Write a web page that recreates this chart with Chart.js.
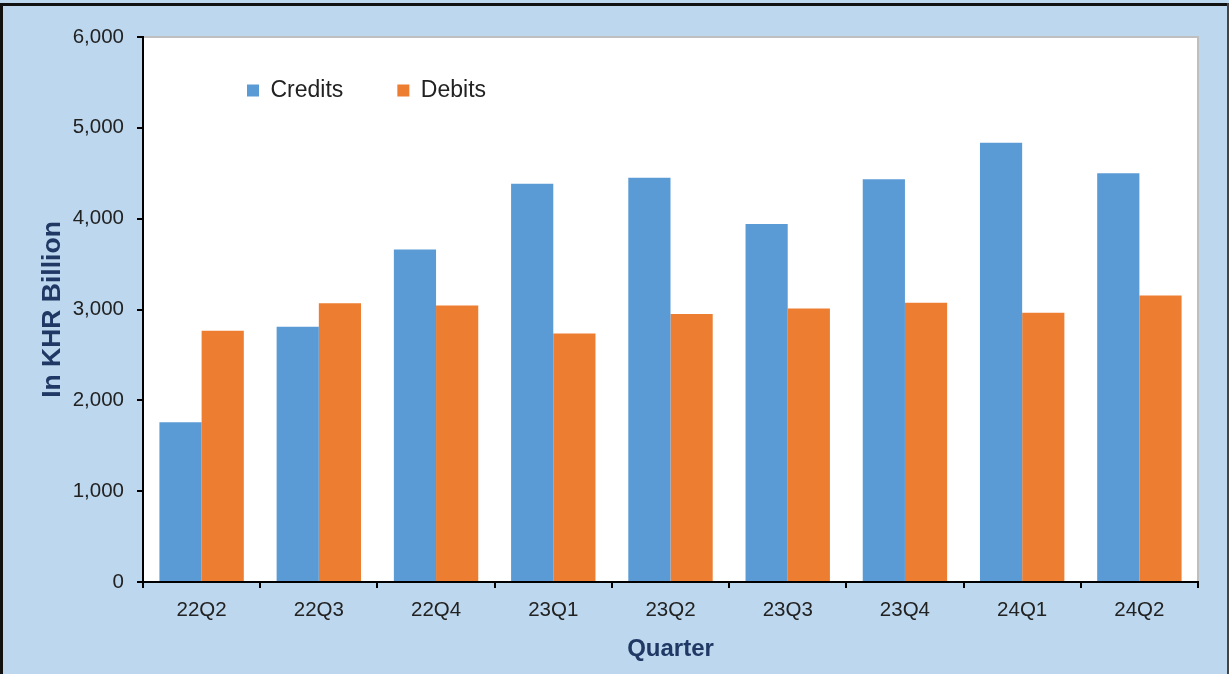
<!DOCTYPE html>
<html>
<head>
<meta charset="utf-8">
<title>Credits and Debits by Quarter</title>
<script src="https://cdn.jsdelivr.net/npm/chart.js@4.4.1/dist/chart.umd.min.js"></script>
<style>
  html, body { margin: 0; padding: 0; background: #BDD7EE; }
  #wrap { position: relative; width: 1229px; height: 674px; }
</style>
</head>
<body>
<div id="wrap">
  <canvas id="myChart" width="1229" height="674"></canvas>
</div>
<script>
'use strict';

//--------------------DATA
let quarters = ['22Q2', '22Q3', '22Q4', '23Q1', '23Q2', '23Q3', '23Q4', '24Q1', '24Q2'];
let credits = [1760, 2810, 3660, 4385, 4450, 3940, 4435, 4835, 4500];
let debits = [2765, 3070, 3045, 2735, 2950, 3010, 3075, 2965, 3155];
let yTicks = [0, 1000, 2000, 3000, 4000, 5000, 6000];

//--------------------STYLE
let fontFamily = '"Liberation Sans", Arial, sans-serif';
let navy = '#1F3864';
let textColor = '#222222';

//--------------------PLUGINS
// light blue panel, black frame, white plot area with grey edge
let backgroundPlugin = {
  id: 'panelBackground',
  beforeDraw(chart) {
    let ctx = chart.ctx;
    let area = chart.chartArea;
    ctx.save();
    ctx.fillStyle = '#BDD7EE';
    ctx.fillRect(0, 0, chart.width, chart.height);

    ctx.fillStyle = '#ffffff';
    ctx.fillRect(area.left, area.top, area.right - area.left, area.bottom - area.top);
    ctx.strokeStyle = '#BFBFBF';
    ctx.lineWidth = 2;
    ctx.strokeRect(area.left, area.top, area.right - area.left, area.bottom - area.top);

    ctx.fillStyle = '#111111';
    ctx.fillRect(0, 3, chart.width, 3);
    ctx.fillRect(0, 3, 3, chart.height);
    ctx.fillStyle = '#444444';
    ctx.fillRect(chart.width - 2, 3, 2, chart.height);
    ctx.restore();
  }
};

// the legend sits inside the plot: one row, two columns, near the top left
let legendSpot = {
  id: 'legendSpot',
  afterLayout(chart) {
    let legend = chart.legend;
    if (!legend) return;
    legend.maxHeight = 150;   // forces each item into its own column
    legend.fit();
    legend.left = 193;
    legend.top = 25;
    legend.right = chart.chartArea.right;
    legend.bottom = legend.top + 100;
    legend.width = legend.right - legend.left;
    legend.height = legend.bottom - legend.top;
  }
};

//--------------------CHART
let canvasElem = document.getElementById('myChart');

let myObj = {
  type: 'bar',
  data: {
    labels: quarters,
    datasets: [
      {
        label: 'Credits',
        data: credits,
        backgroundColor: '#5B9BD5',
        borderWidth: 0,
      },
      {
        label: 'Debits',
        data: debits,
        backgroundColor: '#ED7D31',
        borderWidth: 0,
      },
    ],
  },
  options: {
    responsive: false,
    animation: false,
    devicePixelRatio: 1,
    categoryPercentage: 0.72,
    barPercentage: 1.0,
    layout: {
      padding: { left: 0, top: 37, right: 31, bottom: 0 },
    },
    plugins: {
      legend: {
        position: 'chartArea',
        align: 'start',
        labels: {
          boxWidth: 12,
          boxHeight: 12,
          padding: 54,
          color: textColor,
          font: { family: fontFamily, size: 23 },
        },
      },
      tooltip: { enabled: false },
    },
    scales: {
      x: {
        grid: {
          drawOnChartArea: false,
          drawTicks: true,
          tickLength: 6,
          color: '#000000',
          lineWidth: 2,
        },
        border: { display: true, color: '#000000', width: 2 },
        ticks: {
          color: textColor,
          padding: 10,
          font: { family: fontFamily, size: 20.5 },
        },
        title: {
          display: true,
          text: 'Quarter',
          color: navy,
          padding: { top: 0, bottom: 10 },
          font: { family: fontFamily, size: 24, weight: 'bold' },
        },
        afterFit(scale) {
          scale.height = 92;
        },
      },
      y: {
        min: yTicks[0],
        max: yTicks[yTicks.length - 1],
        grid: {
          drawOnChartArea: false,
          drawTicks: true,
          tickLength: 6,
          color: '#000000',
          lineWidth: 2,
        },
        border: { display: true, color: '#000000', width: 2 },
        afterBuildTicks(scale) {
          scale.ticks = yTicks.map(function (v) { return { value: v }; });
        },
        ticks: {
          color: textColor,
          padding: 13,
          font: { family: fontFamily, size: 20.5 },
          callback: function (value) {
            return Number(value).toLocaleString('en-US');
          },
        },
        title: {
          display: true,
          text: 'In KHR Billion',
          color: navy,
          padding: { top: 37, bottom: 0 },
          font: { family: fontFamily, size: 26.5, weight: 'bold' },
        },
        afterFit(scale) {
          scale.width = 143;
        },
      },
    },
  },
  plugins: [backgroundPlugin, legendSpot],
};

new Chart(canvasElem, myObj);
</script>
</body>
</html>
